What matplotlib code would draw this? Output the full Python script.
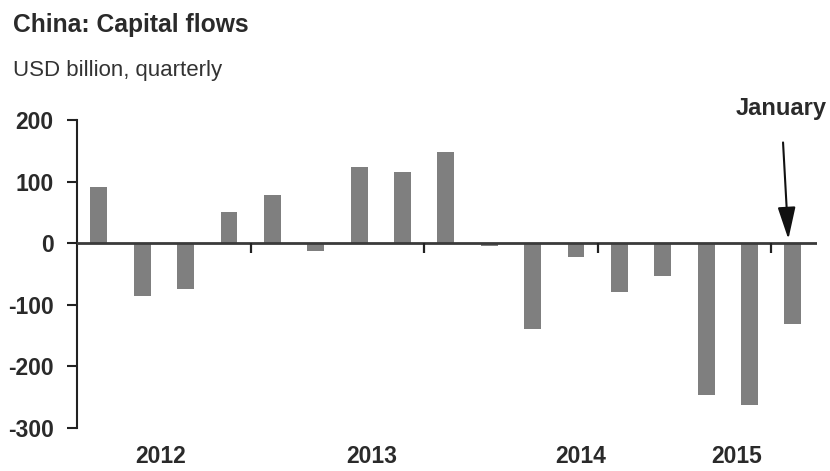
import matplotlib
matplotlib.use("Agg")
import matplotlib.pyplot as plt
import numpy as np

# quarterly capital flows, USD bn
flows = [91, -86, -75, 50, 78, -12, 124, 115, 148, -5, -140, -22, -80, -54, -247, -263, -131]
year_labels = ["2012", "2013", "2014", "2015"]
year_label_pos = [1.42, 6.28, 11.1, 14.7]
year_breaks = [3.5, 7.5, 11.5, 15.5]
y_ticks = [-300, -200, -100, 0, 100, 200]

plt.rcParams['font.family'] = ['Liberation Sans', 'DejaVu Sans']

fig = plt.figure(figsize=(8.3, 4.71), dpi=100)
ax = fig.add_axes([0.093, 0.0913, 0.891, 0.654])

x = np.arange(len(flows))
ax.bar(x, flows, width=0.39, color='#7f7f7f', zorder=2)
ax.axhline(0, color='#3a3a3a', lw=2, zorder=3)
ax.vlines(year_breaks, -16, 0, color='#222222', lw=1.6, zorder=3)

ax.set_xlim(-0.5, 16.55)
ax.set_ylim(-300, 200)
ax.set_yticks(y_ticks)
ax.set_yticklabels([str(v) for v in y_ticks], fontsize=16.5, fontweight='bold', color='#2a2a2a')
ax.tick_params(axis='y', direction='out', length=7, width=1.5, color='#222222', pad=10)

ax.set_xticks(year_label_pos)
ax.set_xticklabels(year_labels, fontsize=16.5, fontweight='bold', color='#2a2a2a')
ax.tick_params(axis='x', length=0, pad=12)

for s in ['top', 'right', 'bottom']:
    ax.spines[s].set_visible(False)
ax.spines['left'].set_linewidth(1.5)
ax.spines['left'].set_color('#222222')

# January arrow
ax.text(15.73, 218, "January", fontsize=17, fontweight='bold', color='#2a2a2a', ha='center', va='center')
ax.annotate("", xy=(15.9, 2), xytext=(15.77, 168),
            arrowprops=dict(arrowstyle='-|>,head_length=0.9,head_width=0.25', color='#111111',
                            lw=1.5, mutation_scale=22),
            annotation_clip=False)

fig.text(0.016, 0.947, "China: Capital flows", fontsize=17.7, fontweight='bold', color='#2a2a2a', va='center')
fig.text(0.016, 0.85, "USD billion, quarterly", fontsize=16, color='#333333', va='center')

fig.savefig("out.png", dpi=100)
